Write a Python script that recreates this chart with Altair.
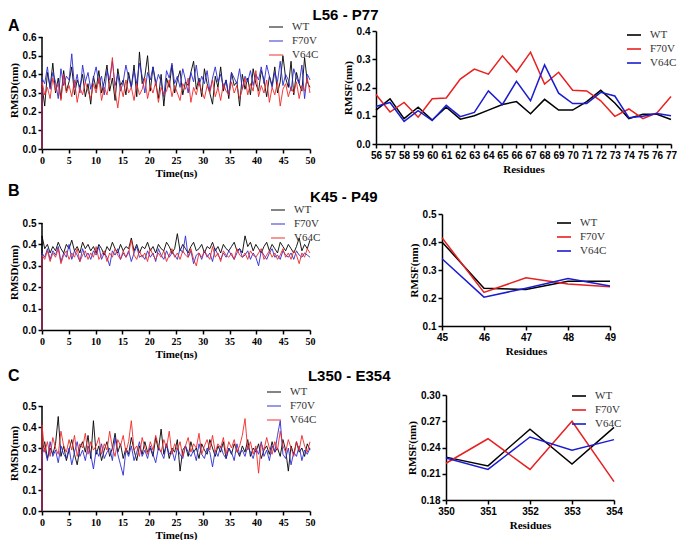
import altair as alt
import pandas as pd

# ---------------- data ----------------
SERIES = ["WT", "F70V", "V64C"]

# RMSD time series (~0.5 ns sampling)
A_WT = [0.34,0.23,0.41,0.33,0.46,0.30,0.38,0.27,0.42,0.31,
        0.36,0.44,0.29,0.37,0.33,0.40,0.28,0.35,0.24,0.39,
        0.32,0.42,0.30,0.36,0.45,0.31,0.38,0.26,0.43,0.34,
        0.37,0.29,0.41,0.33,0.45,0.28,0.52,0.35,0.39,0.50,
        0.31,0.44,0.36,0.27,0.40,0.23,0.38,0.33,0.45,0.30,
        0.37,0.42,0.29,0.36,0.34,0.41,0.47,0.32,0.38,0.28,
        0.43,0.35,0.30,0.24,0.39,0.33,0.44,0.31,0.37,0.27,
        0.41,0.34,0.36,0.23,0.40,0.32,0.38,0.29,0.43,0.35,
        0.31,0.42,0.37,0.28,0.39,0.34,0.44,0.30,0.36,0.50,
        0.38,0.33,0.47,0.29,0.41,0.35,0.31,0.49,0.36,0.33]
A_F70V = [0.38,0.35,0.44,0.32,0.41,0.36,0.27,0.43,0.34,0.39,
          0.37,0.51,0.33,0.40,0.30,0.45,0.36,0.41,0.32,0.38,
          0.44,0.35,0.39,0.29,0.42,0.37,0.47,0.34,0.40,0.31,
          0.36,0.45,0.38,0.33,0.42,0.35,0.46,0.39,0.30,0.41,
          0.37,0.44,0.34,0.40,0.36,0.28,0.42,0.38,0.46,0.35,
          0.39,0.33,0.43,0.37,0.30,0.41,0.36,0.45,0.34,0.39,
          0.35,0.42,0.31,0.38,0.44,0.36,0.40,0.33,0.37,0.29,
          0.41,0.38,0.35,0.43,0.32,0.39,0.36,0.42,0.34,0.40,
          0.37,0.44,0.35,0.45,0.39,0.33,0.41,0.36,0.47,0.34,
          0.40,0.37,0.31,0.43,0.38,0.35,0.45,0.27,0.40,0.37]
A_V64C = [0.36,0.29,0.33,0.27,0.38,0.31,0.35,0.26,0.40,0.30,
          0.34,0.28,0.37,0.25,0.33,0.29,0.36,0.31,0.27,0.35,
          0.30,0.38,0.26,0.33,0.29,0.36,0.49,0.31,0.22,0.34,
          0.28,0.37,0.30,0.33,0.26,0.35,0.29,0.32,0.38,0.27,
          0.34,0.30,0.36,0.25,0.33,0.29,0.31,0.37,0.28,0.34,
          0.30,0.26,0.35,0.32,0.38,0.25,0.33,0.29,0.36,0.31,
          0.27,0.34,0.30,0.37,0.28,0.33,0.26,0.35,0.31,0.29,
          0.36,0.30,0.34,0.27,0.32,0.38,0.29,0.35,0.31,0.42,
          0.28,0.34,0.30,0.37,0.25,0.33,0.29,0.36,0.23,0.32,
          0.35,0.28,0.33,0.30,0.36,0.27,0.34,0.31,0.38,0.30]

B_WT = [0.44,0.38,0.40,0.36,0.39,0.37,0.41,0.38,0.36,0.40,
        0.38,0.42,0.37,0.39,0.36,0.41,0.38,0.40,0.37,0.39,
        0.36,0.40,0.38,0.35,0.39,0.37,0.41,0.38,0.36,0.40,
        0.37,0.39,0.38,0.43,0.37,0.40,0.36,0.39,0.38,0.41,
        0.37,0.39,0.36,0.40,0.38,0.37,0.41,0.39,0.36,0.38,
        0.45,0.37,0.40,0.38,0.36,0.39,0.41,0.37,0.38,0.40,
        0.36,0.39,0.38,0.41,0.37,0.39,0.36,0.40,0.38,0.37,
        0.39,0.41,0.37,0.38,0.36,0.44,0.39,0.41,0.37,0.40,
        0.38,0.36,0.39,0.41,0.37,0.40,0.38,0.36,0.41,0.39,
        0.37,0.40,0.38,0.36,0.39,0.43,0.37,0.40,0.38,0.42]
B_F70V = [0.36,0.34,0.38,0.33,0.37,0.35,0.39,0.32,0.36,0.34,
          0.40,0.33,0.37,0.35,0.32,0.38,0.34,0.36,0.33,0.37,
          0.35,0.39,0.33,0.36,0.34,0.30,0.37,0.35,0.38,0.33,
          0.36,0.34,0.37,0.32,0.36,0.39,0.34,0.35,0.33,0.37,
          0.34,0.36,0.32,0.38,0.35,0.33,0.37,0.34,0.36,0.35,
          0.33,0.38,0.36,0.44,0.34,0.37,0.31,0.35,0.36,0.33,
          0.37,0.34,0.36,0.32,0.38,0.35,0.33,0.36,0.34,0.37,
          0.35,0.33,0.36,0.38,0.34,0.35,0.37,0.33,0.36,0.34,
          0.30,0.37,0.35,0.33,0.36,0.38,0.34,0.35,0.33,0.37,
          0.35,0.34,0.36,0.33,0.37,0.35,0.34,0.36,0.35,0.34]
B_V64C = [0.35,0.33,0.37,0.32,0.36,0.34,0.38,0.31,0.35,0.37,
          0.33,0.36,0.34,0.38,0.32,0.35,0.37,0.33,0.36,0.34,
          0.39,0.33,0.35,0.37,0.32,0.36,0.34,0.38,0.35,0.33,
          0.37,0.34,0.36,0.42,0.35,0.33,0.37,0.34,0.36,0.32,
          0.38,0.35,0.33,0.36,0.34,0.37,0.32,0.35,0.38,0.34,
          0.36,0.33,0.37,0.35,0.34,0.38,0.33,0.30,0.36,0.34,
          0.37,0.35,0.33,0.39,0.34,0.36,0.32,0.37,0.35,0.34,
          0.36,0.33,0.38,0.35,0.34,0.36,0.33,0.37,0.35,0.34,
          0.36,0.38,0.33,0.35,0.37,0.34,0.36,0.33,0.35,0.38,
          0.34,0.36,0.33,0.37,0.35,0.31,0.36,0.34,0.38,0.36]

C_WT = [0.28,0.33,0.25,0.30,0.27,0.32,0.45,0.26,0.31,0.24,
        0.29,0.34,0.27,0.22,0.30,0.33,0.28,0.36,0.25,0.43,
        0.27,0.31,0.24,0.29,0.33,0.26,0.30,0.37,0.28,0.32,
        0.25,0.30,0.27,0.35,0.29,0.24,0.31,0.27,0.33,0.28,
        0.30,0.26,0.35,0.29,0.39,0.27,0.32,0.25,0.30,0.28,
        0.34,0.19,0.29,0.31,0.26,0.33,0.28,0.30,0.25,0.32,
        0.29,0.27,0.34,0.30,0.26,0.31,0.28,0.33,0.25,0.30,
        0.27,0.32,0.29,0.26,0.31,0.28,0.34,0.26,0.30,0.28,
        0.32,0.25,0.29,0.31,0.27,0.33,0.28,0.30,0.26,0.34,
        0.29,0.19,0.31,0.27,0.33,0.28,0.30,0.26,0.32,0.29]
C_F70V = [0.27,0.30,0.24,0.33,0.26,0.29,0.23,0.31,0.27,0.25,
          0.30,0.22,0.28,0.33,0.26,0.29,0.24,0.31,0.27,0.20,
          0.29,0.26,0.32,0.25,0.28,0.30,0.24,0.35,0.27,0.22,
          0.17,0.29,0.26,0.31,0.24,0.28,0.33,0.26,0.29,0.25,
          0.31,0.27,0.23,0.30,0.28,0.25,0.32,0.27,0.29,0.24,
          0.30,0.27,0.25,0.31,0.28,0.26,0.29,0.24,0.32,0.27,
          0.25,0.30,0.28,0.21,0.29,0.26,0.31,0.27,0.25,0.30,
          0.28,0.24,0.32,0.27,0.29,0.26,0.31,0.28,0.25,0.30,
          0.27,0.33,0.26,0.29,0.24,0.31,0.28,0.36,0.43,0.27,
          0.25,0.30,0.22,0.28,0.26,0.31,0.24,0.29,0.27,0.30]
C_V64C = [0.41,0.28,0.33,0.26,0.35,0.30,0.27,0.38,0.31,0.28,
          0.34,0.29,0.36,0.26,0.32,0.30,0.37,0.27,0.33,0.29,
          0.31,0.35,0.27,0.32,0.29,0.38,0.30,0.26,0.34,0.31,
          0.36,0.28,0.33,0.43,0.29,0.31,0.26,0.35,0.30,0.27,
          0.33,0.29,0.36,0.31,0.28,0.34,0.30,0.38,0.27,0.32,
          0.29,0.33,0.26,0.31,0.35,0.28,0.32,0.30,0.37,0.27,
          0.31,0.34,0.29,0.36,0.28,0.32,0.30,0.35,0.27,0.33,
          0.30,0.34,0.28,0.31,0.36,0.44,0.29,0.33,0.27,0.31,
          0.18,0.32,0.29,0.35,0.30,0.27,0.33,0.29,0.38,0.31,
          0.28,0.34,0.30,0.26,0.33,0.29,0.36,0.31,0.28,0.33]

# RMSF per residue
RA_RES = list(range(56, 78))
RA_WT = [0.12,0.16,0.09,0.13,0.085,0.13,0.088,0.10,0.12,0.14,0.15,
         0.107,0.158,0.12,0.12,0.15,0.19,0.145,0.09,0.105,0.105,0.087]
RA_F70V = [0.175,0.113,0.147,0.095,0.16,0.163,0.23,0.265,0.247,0.312,0.255,
           0.325,0.212,0.254,0.19,0.188,0.153,0.098,0.124,0.09,0.11,0.168]
RA_V64C = [0.133,0.147,0.08,0.118,0.083,0.137,0.097,0.112,0.188,0.14,0.222,
           0.153,0.28,0.18,0.143,0.143,0.183,0.17,0.093,0.098,0.108,0.10]

RB_RES = [45, 46, 47, 48, 49]
RB_WT = [0.40, 0.235, 0.23, 0.26, 0.26]
RB_F70V = [0.415, 0.22, 0.272, 0.25, 0.24]
RB_V64C = [0.34, 0.203, 0.235, 0.27, 0.243]

RC_RES = [350, 351, 352, 353, 354]
RC_WT = [0.229, 0.219, 0.261, 0.221, 0.263]
RC_F70V = [0.222, 0.25, 0.215, 0.27, 0.201]
RC_V64C = [0.228, 0.215, 0.252, 0.237, 0.249]

HEADERS = ["L56 - P77", "K45 - P49", "L350 - E354"]
LETTERS = ["A", "B", "C"]

# ---------------- styling helpers ----------------
SANS = "Liberation Sans"
SERIF = "Liberation Serif"
LEFT_COLORS = ["#000000", "#2b2bd0", "#f02828"]
RIGHT_COLORS = ["#000000", "#e82020", "#1c1cd0"]


def long_df(xs, ys_list):
    rows = []
    for name, ys in zip(SERIES, ys_list):
        for k, (x, y) in enumerate(zip(xs, ys)):
            rows.append({"x": x, "y": y, "series": name, "k": k})
    return pd.DataFrame(rows)


def legend(lx, ly, opacity):
    return alt.Legend(title=None, orient="none", legendX=lx, legendY=ly,
                      symbolType="stroke", symbolSize=196, symbolStrokeWidth=1.6,
                      symbolOpacity=opacity,
                      labelFont=SERIF, labelFontSize=11, labelColor="#333333",
                      rowPadding=1, labelOffset=8)


def left_panel(vals, ymax, w, h, lx, ly, letter, loff, lift):
    # lift: extra empty pixels above the y-axis top so that the right panel
    # of the same row sits higher, as in the reference figure
    times = [0.0] + [i * 50 / 99 for i in range(100)]
    ys = [[0.0] + v for v in vals]
    df = long_df(times, ys)
    ytop = ymax * (h + lift) / h
    xscale = alt.Scale(domain=[0, 50], nice=False)
    yscale = alt.Scale(domain=[0, ytop], nice=False)
    xaxis = alt.Axis(values=list(range(0, 51, 5)), title="Time(ns)",
                     labelFont=SERIF, labelFontWeight="bold",
                     labelFontSize=10, titlePadding=2, labelFlush=False)
    yaxis = alt.Axis(values=[round(0.1 * i, 1) for i in range(int(round(ymax * 10)) + 1)],
                     format=".1f", title="RMSD(nm)", domain=False,
                     labelFont=SANS, labelFontWeight="bold",
                     labelFontSize=10, titlePadding=3)
    color = alt.Color("series:N",
                      scale=alt.Scale(domain=SERIES, range=LEFT_COLORS),
                      legend=legend(lx, ly + lift, 0.6))
    axis_line = alt.Chart(pd.DataFrame({"x": [0.0], "y": [0.0], "y2": [ymax]})).mark_rule(
        color="black", strokeWidth=1.5).encode(
        x=alt.X("x:Q", scale=xscale, axis=xaxis),
        y=alt.Y("y:Q", scale=yscale, axis=yaxis), y2="y2:Q")
    layers = [axis_line]
    for s in SERIES:
        layers.append(
            alt.Chart(df).transform_filter(alt.datum.series == s)
            .mark_line(strokeWidth=0.9)
            .encode(
                x=alt.X("x:Q", scale=xscale, axis=xaxis),
                y=alt.Y("y:Q", scale=yscale, axis=yaxis),
                color=color,
                order="k:Q",
            )
        )
    return alt.layer(*layers).properties(
        width=w, height=h + lift,
        title=alt.Title(letter, anchor="start", font=SANS, fontSize=16,
                        fontWeight="bold", color="black", dx=0, offset=loff))


def right_panel(xs, vals, ydom, ystep, yfmt, w, h, lx, ly):
    df = long_df(xs, vals)
    nt = int(round((ydom[1] - ydom[0]) / ystep))
    yvals = [round(ydom[0] + ystep * i, 3) for i in range(nt + 1)]
    color = alt.Color("series:N",
                      scale=alt.Scale(domain=SERIES, range=RIGHT_COLORS),
                      legend=legend(lx, ly, 1))
    return alt.Chart(df).mark_line(strokeWidth=1.5).encode(
        x=alt.X("x:Q", scale=alt.Scale(domain=[xs[0], xs[-1]], nice=False, zero=False),
                axis=alt.Axis(values=xs, format="d", title="Residues", labelOverlap=False,
                              labelFlush=False,
                              labelFont=SANS, labelFontWeight="bold",
                              labelFontSize=10, titlePadding=3)),
        y=alt.Y("y:Q", scale=alt.Scale(domain=ydom, nice=False, zero=False),
                axis=alt.Axis(values=yvals, format=yfmt, title="RMSF(nm)",
                              labelFont=SANS, labelFontWeight="bold",
                              labelFontSize=10, titlePadding=3)),
        color=color,
        order="k:Q",
    ).properties(width=w, height=h)


LA = left_panel([A_WT, A_F70V, A_V64C], 0.6, 268, 112, 226, -18, LETTERS[0], -15, 6)
LB = left_panel([B_WT, B_F70V, B_V64C], 0.5, 268, 107, 228, -21, LETTERS[1], 3, 9)
LC = left_panel([C_WT, C_F70V, C_V64C], 0.5, 268, 105, 224, -22, LETTERS[2], 0, 11)

RA = right_panel(RA_RES, [RA_WT, RA_F70V, RA_V64C], [0, 0.4], 0.1, ".1f", 295, 113, 250, -4)
RB = right_panel(RB_RES, [RB_WT, RB_F70V, RB_V64C], [0.1, 0.5], 0.1, ".1f", 168, 112, 114, 1)
RC = right_panel(RC_RES, [RC_WT, RC_F70V, RC_V64C], [0.18, 0.30], 0.03, ".2f", 168, 105, 125, -7)


def row(left, right, spacing, header, dx, hoff):
    return alt.hconcat(left, right, spacing=spacing).resolve_scale(
        color="independent").properties(
        title=alt.Title(header, anchor="middle", font=SANS,
                        fontSize=15, fontWeight="bold", color="black", dx=dx, offset=hoff))


top_rows = alt.vconcat(
    row(LA, RA, 23, HEADERS[0], 3, -5),
    row(LB, RB, 87, HEADERS[1], 32, -22),
    spacing=5,
).resolve_scale(color="independent")

chart = alt.vconcat(
    top_rows,
    row(LC, RC, 89, HEADERS[2], 34, -16),
    spacing=9,
).resolve_scale(color="independent").properties(padding=0).configure_view(stroke=None).configure_axis(
    grid=False, domainColor="black", domainWidth=1.5, tickColor="black", tickWidth=1.5,
    tickSize=4, labelColor="black", titleFont=SERIF, titleFontWeight="bold",
    titleFontSize=11, titleColor="black", labelPadding=2,
)

chart.save("out.html", embed_options={"renderer": "svg", "actions": False})
